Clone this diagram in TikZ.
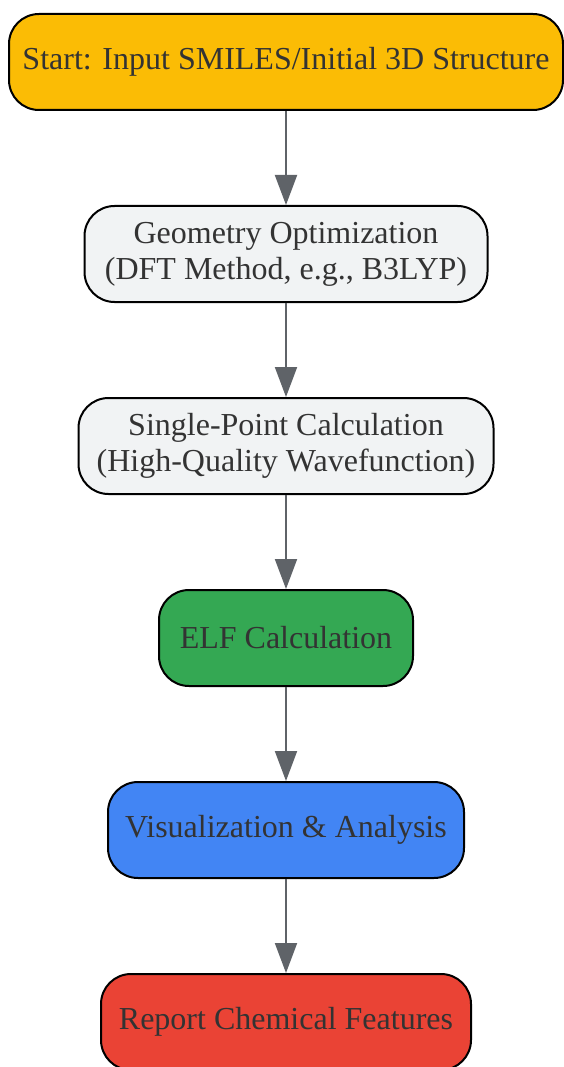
\documentclass[tikz,border=0pt]{standalone}
\usepackage{fontspec}
\setmainfont{Liberation Serif}
\usetikzlibrary{positioning,arrows.meta}
\definecolor{startyellow}{HTML}{FBBC05}
\definecolor{stepgray}{HTML}{F1F3F4}
\definecolor{elfgreen}{HTML}{34A853}
\definecolor{visblue}{HTML}{4285F4}
\definecolor{reportred}{HTML}{EA4335}
\definecolor{arrowgray}{HTML}{5F6368}
\definecolor{textgray}{HTML}{333333}
\begin{document}
\begin{tikzpicture}[x=1pt,y=1pt,>={Triangle[length=30pt,width=22pt]},
	box/.style={draw=black,line width=2pt,rounded corners=30pt,minimum height=96pt,
		align=center,text=textgray,font=\fontsize{32}{36}\selectfont},
	flow/.style={->,draw=arrowgray,line width=2pt},
	node distance=94pt]
	\useasboundingbox (0,0) rectangle (563,-1067);
	\node[box,fill=startyellow,minimum width=554pt] (start) at (286,-62) {Start: Input SMILES/Initial 3D Structure};
	\node[box,fill=stepgray,minimum width=403pt,below=of start] (geom) {Geometry Optimization\\(DFT Method, e.g., B3LYP)};
	\node[box,fill=stepgray,minimum width=415pt,below=of geom] (single) {Single-Point Calculation\\(High-Quality Wavefunction)};
	\node[box,fill=elfgreen,minimum width=254pt,below=of single] (elf) {ELF Calculation};
	\node[box,fill=visblue,minimum width=356pt,below=of elf] (vis) {Visualization \& Analysis};
	\node[box,fill=reportred,minimum width=370pt,below=of vis] (report) {Report Chemical Features};
	\draw[flow](start)--(geom);
	\draw[flow](geom)--(single);
	\draw[flow](single)--(elf);
	\draw[flow](elf)--(vis);
	\draw[flow](vis)--(report);
\end{tikzpicture}
\end{document}
